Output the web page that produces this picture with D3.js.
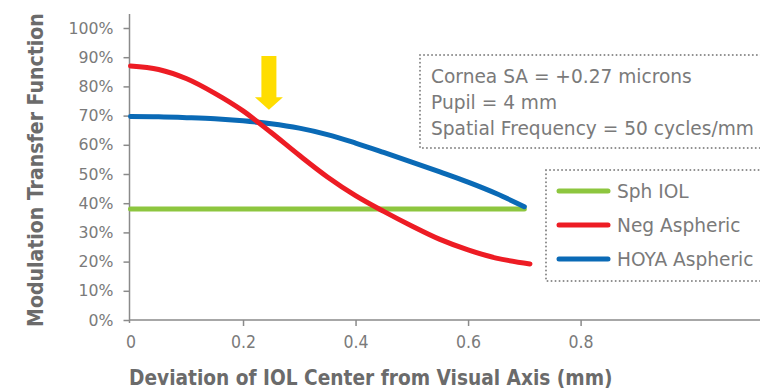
<!DOCTYPE html>
<html><head><meta charset="utf-8">
<script src="https://cdn.jsdelivr.net/npm/d3@7"></script>
<style>
html,body{margin:0;padding:0;background:#fff;}
svg{display:block;}
</style></head>
<body>
<svg id="chart" width="760" height="390"></svg>
<script>
// ---- data ----
const seriesNames = ["Sph IOL", "Neg Aspheric", "HOYA Aspheric"];
const seriesColors = ["#8dc63f", "#ed1c24", "#0a6ab6"];
const sphX  = [0, 0.7];
const sphY  = [38, 38];
const negX  = [0, 0.05, 0.1, 0.15, 0.2, 0.25, 0.3, 0.35, 0.4, 0.45, 0.5, 0.55, 0.6, 0.65, 0.71];
const negY  = [87, 85.8, 82.6, 77.6, 71.6, 64.2, 56.4, 49, 42.6, 37.2, 32.2, 27.6, 24, 21.2, 19.2];
const hoyaX = [0, 0.05, 0.1, 0.15, 0.2, 0.25, 0.3, 0.35, 0.4, 0.45, 0.5, 0.55, 0.6, 0.65, 0.7];
const hoyaY = [69.7, 69.6, 69.3, 68.9, 68.2, 67.2, 65.7, 63.5, 60.6, 57.4, 54.1, 50.7, 47.2, 43.3, 38.8];
const xTicks = [0, 0.2, 0.4, 0.6, 0.8];
const xTickLabels = ["0", "0.2", "0.4", "0.6", "0.8"];
const yTicks = [0, 10, 20, 30, 40, 50, 60, 70, 80, 90, 100];
const yTickLabels = ["0%", "10%", "20%", "30%", "40%", "50%", "60%", "70%", "80%", "90%", "100%"];
const infoLines = ["Cornea SA = +0.27 microns", "Pupil = 4 mm", "Spatial Frequency = 50 cycles/mm"];
const xTitle = "Deviation of IOL Center from Visual Axis (mm)";
const yTitle = "Modulation Transfer Function";
const arrowAt = {x: 0.246, tip: 72, top: 90.4, headBase: 76.3};

// ---- layout ----
const svg = d3.select("#chart");
const x = d3.scaleLinear().domain([0, 0.8]).range([130.5, 580.6]);
const y = d3.scaleLinear().domain([0, 100]).range([320, 28]);
const gray = "#8a8a8a";
const textGray = "#7a7a7a";
const titleGray = "#6b6b6b";
const condensed = "'DejaVu Sans Condensed',sans-serif";
const normal = "'DejaVu Sans',sans-serif";

// scale a text selection's font size so that its width matches a target
function fitWidth(sel, target) {
  const node = sel.node();
  const fs = parseFloat(sel.style("font-size"));
  const w = node.getComputedTextLength();
  return fs * target / w;
}

// axes
const yAxis = svg.append("g").attr("transform", `translate(${x(0)-1},0)`)
  .call(d3.axisLeft(y).tickValues(yTicks).tickFormat((d,i)=>yTickLabels[i]).tickSize(6).tickSizeOuter(0));
yAxis.select(".domain").attr("d", `M0,14V323`).attr("stroke", gray).attr("stroke-width", 1.5);
yAxis.selectAll(".tick line").attr("stroke", gray).attr("stroke-width", 1.5);
yAxis.selectAll(".tick text").attr("x", -16).attr("fill", textGray)
  .style("font-family", normal).style("font-size", "16px");
{
  const t = yAxis.selectAll(".tick text").filter(d => d === 100);
  const fs = fitWidth(t, 45);
  yAxis.selectAll(".tick text").style("font-size", fs + "px");
}

const xAxis = svg.append("g").attr("transform", `translate(0,${y(0)})`)
  .call(d3.axisBottom(x).tickValues(xTicks).tickFormat((d,i)=>xTickLabels[i]).tickSize(6).tickSizeOuter(0));
xAxis.select(".domain").attr("d", `M${x(0)-1},0H760`).attr("stroke", gray).attr("stroke-width", 1.5);
xAxis.selectAll(".tick line").attr("stroke", gray).attr("stroke-width", 1.5);
xAxis.selectAll(".tick").filter(d=>d===0).select("line").remove();
xAxis.selectAll(".tick text").attr("y", 16).attr("fill", textGray)
  .style("font-family", condensed).style("font-size", "17.5px");
svg.selectAll(".domain").attr("fill", "none");

// titles
const xt = svg.append("text").attr("x", 129).attr("y", 385).text(xTitle)
  .attr("fill", titleGray).style("font-family", condensed).style("font-weight", "bold").style("font-size", "20px");
xt.style("font-size", fitWidth(xt, 484) + "px");
const yt = svg.append("text").attr("transform", "translate(43,327) rotate(-90)").text(yTitle)
  .attr("fill", titleGray).style("font-family", condensed).style("font-weight", "bold").style("font-size", "20px");
yt.style("font-size", fitWidth(yt, 314) + "px");

// lines
const line = d3.line().x(d=>x(d[0])).y(d=>y(d[1])).curve(d3.curveCatmullRom.alpha(0.5));
const series = [
  d3.zip(sphX, sphY),
  d3.zip(negX, negY),
  d3.zip(hoyaX, hoyaY)
];
const drawOrder = [0, 2, 1];
drawOrder.forEach(i => {
  svg.append("path").attr("d", line(series[i])).attr("fill", "none")
    .attr("stroke", seriesColors[i]).attr("stroke-width", 5).attr("stroke-linecap", "round");
});

// arrow
const ax = x(arrowAt.x);
const sw = 7.5, hw = 14;
const arrowPts = [
  [ax-sw, y(arrowAt.top)], [ax+sw, y(arrowAt.top)], [ax+sw, y(arrowAt.headBase)],
  [ax+hw, y(arrowAt.headBase)], [ax, y(arrowAt.tip)], [ax-hw, y(arrowAt.headBase)], [ax-sw, y(arrowAt.headBase)]
];
svg.append("path").attr("d", "M" + arrowPts.map(p=>p.join(",")).join("L") + "Z").attr("fill", "#ffdd00");

// dotted boxes
function dottedBox(x0, y0, x1, y1) {
  svg.append("rect").attr("x", x0).attr("y", y0).attr("width", x1-x0).attr("height", y1-y0)
    .attr("fill", "#fff").attr("stroke", "#8a8a8a").attr("stroke-width", 2)
    .attr("stroke-dasharray", "0.01 4").attr("stroke-linecap", "round");
}
dottedBox(420, 55, 790, 148);
const infoTexts = infoLines.map((t, i) =>
  svg.append("text").attr("x", 431).attr("y", 83 + i*26).text(t)
    .attr("fill", textGray).style("font-family", normal).style("font-size", "17px"));
const infoFs = fitWidth(infoTexts[0], 261);
infoTexts.forEach(t => t.style("font-size", infoFs + "px"));

dottedBox(546, 170, 790, 281);
seriesNames.forEach((name, i) => {
  const ly = 191 + i*34;
  svg.append("line").attr("x1", 559).attr("x2", 608).attr("y1", ly).attr("y2", ly)
    .attr("stroke", seriesColors[i]).attr("stroke-width", 5).attr("stroke-linecap", "round");
  svg.append("text").attr("x", 617).attr("y", ly + 6.5).text(name)
    .attr("fill", textGray).style("font-family", normal).style("font-size", infoFs + "px");
});
</script>
</body></html>
